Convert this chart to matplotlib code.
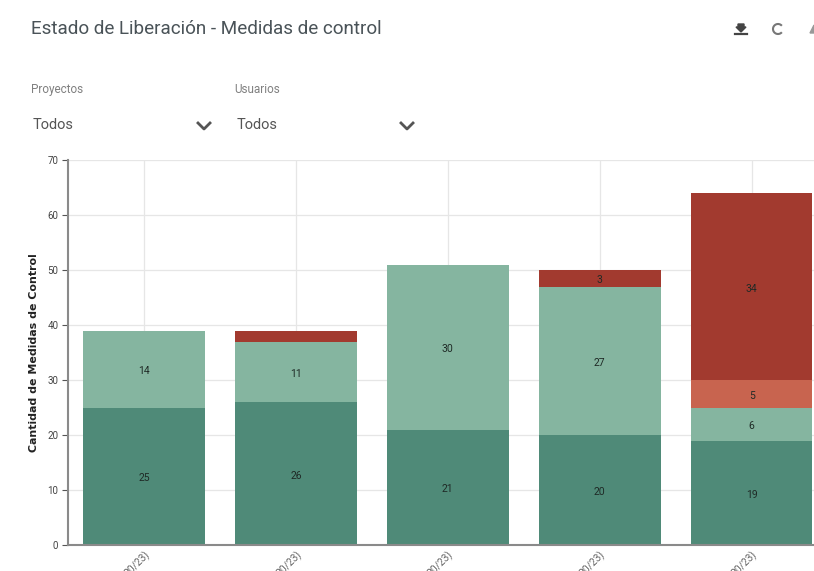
import matplotlib
matplotlib.use("Agg")
import matplotlib.pyplot as plt
from matplotlib.patches import Polygon, Arc
from matplotlib.transforms import IdentityTransform

plt.rcParams["font.family"] = ["Roboto", "DejaVu Sans"]

# -----------------------------
# Daten
# -----------------------------
periodos = ["20/23)", "20/23)", "20/23)", "20/23)", "20/23)"]
liberadas = [25, 26, 21, 20, 19]
en_proceso = [14, 11, 30, 27, 6]
retrasadas = [0, 0, 0, 0, 5]
no_liberadas = [0, 2, 0, 3, 34]
series = [liberadas, en_proceso, retrasadas, no_liberadas]
colores = ["#4f8a78", "#85b5a0", "#c8644f", "#a23a2f"]
y_ticks = [0, 10, 20, 30, 40, 50, 60, 70]

W, H = 814, 571
fig = plt.figure(figsize=(W / 100, H / 100), dpi=100)

# Achse in Pixeln: links 68, rechts 814, oben 160, unten 545
ax = fig.add_axes([68 / W, 1 - 545 / H, (814 - 68) / W, (545 - 160) / H])
ax.set_xlim(-0.5, 4.41)
ax.set_ylim(0, 70)

ax.set_axisbelow(True)
ax.grid(True, color="#e6e6e6", linewidth=0.9)

unten = [0] * len(periodos)
for werte, farbe in zip(series, colores):
    ax.bar(range(len(periodos)), werte, width=0.8, bottom=unten, color=farbe)
    for i, w in enumerate(werte):
        # zu flache Segmente (Wert 2) haben im Original kein lesbares Label
        if w > 2:
            ax.annotate(str(w), (i, unten[i] + w / 2), xytext=(0, -1.5),
                        textcoords="offset points", ha="center", va="center",
                        fontsize=7.5, color="#1f2a26")
    unten = [u + w for u, w in zip(unten, werte)]

for seite in ["top", "right"]:
    ax.spines[seite].set_visible(False)
ax.spines["left"].set_color("#8a8a8a")
ax.spines["left"].set_linewidth(1.5)
ax.spines["bottom"].set_color("#8a8a8a")
ax.spines["bottom"].set_linewidth(1.5)

ax.set_yticks(y_ticks)
ax.tick_params(axis="y", labelsize=7, labelcolor="#444444", color="#555555", length=4, pad=3)
ax.set_xticks(range(len(periodos)))
ax.set_xticklabels(periodos, rotation=45, ha="right", rotation_mode="anchor",
                   fontsize=7.5, color="#666666")
ax.tick_params(axis="x", length=0, pad=3)
ax.set_ylabel("Cantidad de Medidas de Control", fontsize=7.9, fontweight="bold",
              color="#222222", labelpad=6, family=["DejaVu Sans"])

# -----------------------------
# Kopfbereich
# -----------------------------
def px_text(x, y, s, **kw):
    fig.text(x / W, 1 - y / H, s, va="baseline", **kw)

px_text(31, 34, "Estado de Liberación - Medidas de control", fontsize=13.6, color="#4a5358")
px_text(31, 93, "Proyectos", fontsize=8.5, color="#808080")
px_text(234, 93, "Usuarios", fontsize=8.5, color="#808080")
px_text(33, 129, "Todos", fontsize=10.5, color="#555555")
px_text(237, 129, "Todos", fontsize=10.5, color="#555555")


def chevron(x, y):
    xs = [x - 6, x, x + 6]
    ys = [y - 3, y + 3, y - 3]
    fig.add_artist(plt.Line2D([v / W for v in xs], [1 - v / H for v in ys],
                              color="#555555", linewidth=2))


chevron(204, 126)
chevron(407, 126)

# Icons oben rechts
pfeil = [(738, 24), (744, 24), (744, 27), (746, 27), (741, 32), (736, 27), (738, 27)]
fig.add_artist(Polygon([(x / W, 1 - y / H) for x, y in pfeil], closed=True,
                       color="#444444", transform=fig.transFigure))
fig.add_artist(plt.Line2D([735 / W, 747 / W], [1 - 33.5 / H] * 2, color="#444444", linewidth=1.6))
fig.add_artist(Arc((778, H - 29), 10, 10, theta1=40, theta2=320, color="#777777",
                   linewidth=1.5, transform=IdentityTransform()))
rest = [(810, 33), (814, 25), (814, 33)]
fig.add_artist(Polygon([(x / W, 1 - y / H) for x, y in rest], closed=True,
                       color="#999999", transform=fig.transFigure))

fig.savefig("out.png", dpi=100)
